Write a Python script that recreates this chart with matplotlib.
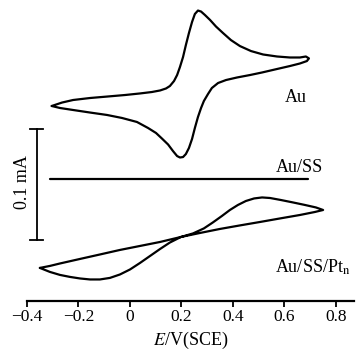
import matplotlib
matplotlib.use('Agg')
import matplotlib.pyplot as plt
import numpy as np

plt.rcParams['font.family'] = 'Liberation Serif'
plt.rcParams['mathtext.fontset'] = 'stix'
plt.rcParams['font.size'] = 13

# Au electrode: forward scan then reverse scan (E / V, I / mA)
au_E = [-0.304, -0.264, -0.221, -0.155, -0.089, -0.019, 0.039, 0.085, 0.117, 0.140,
        0.155, 0.171, 0.183, 0.194, 0.206, 0.217, 0.229, 0.241, 0.252, 0.264,
        0.276, 0.291, 0.311, 0.334, 0.361, 0.392, 0.427, 0.470, 0.517, 0.571,
        0.621, 0.660, 0.683, 0.695,
        0.687, 0.660, 0.621, 0.563, 0.513, 0.466, 0.416, 0.373, 0.342, 0.318,
        0.303, 0.287, 0.276, 0.264, 0.252, 0.241, 0.229, 0.217, 0.206, 0.194,
        0.183, 0.167, 0.148, 0.124, 0.101, 0.070, 0.027, -0.031, -0.089, -0.155,
        -0.221, -0.272, -0.304]
au_I = [-0.0099, -0.0068, -0.0045, -0.0027, -0.0014, 0.0, 0.0014, 0.0027, 0.0041, 0.0059,
        0.0081, 0.0126, 0.0180, 0.0252, 0.0342, 0.0450, 0.0559, 0.0658, 0.0730, 0.0761,
        0.0752, 0.0721, 0.0676, 0.0617, 0.0559, 0.0495, 0.0441, 0.0396, 0.0365, 0.0347,
        0.0338, 0.0338, 0.0347, 0.0330,
        0.0306, 0.0284, 0.0261, 0.0230, 0.0203, 0.0180, 0.0158, 0.0135, 0.0108, 0.0063,
        0.0009, -0.0054, -0.0117, -0.0198, -0.0297, -0.0396, -0.0477, -0.0532, -0.0559, -0.0563,
        -0.0550, -0.0505, -0.0446, -0.0392, -0.0342, -0.0297, -0.0243, -0.0207, -0.0180, -0.0158,
        -0.0135, -0.0117, -0.0099]

# Au/SS electrode
ss_E = [-0.31, 0.69]
ss_I = [0.0, 0.0]

# Au/SS/Pt_n electrode
pt_E = [-0.350, -0.311, -0.272, -0.194, -0.117, -0.039, 0.039, 0.117, 0.198,
        0.272, 0.349, 0.427, 0.505, 0.583, 0.660, 0.718, 0.750,
        0.722, 0.680, 0.633, 0.586, 0.544, 0.513, 0.482, 0.450, 0.419, 0.388,
        0.357, 0.322, 0.287, 0.245, 0.198,
        0.155, 0.117, 0.078, 0.039, 0.0, -0.039, -0.078, -0.117, -0.155, -0.194,
        -0.233, -0.272, -0.311, -0.350]
pt_I = [-0.0279, -0.0261, -0.0239, -0.0198, -0.0158, -0.0117, -0.0081, -0.0045, 0.0,
        0.0036, 0.0072, 0.0104, 0.0135, 0.0167, 0.0198, 0.0225, 0.0243,
        0.0266, 0.0288, 0.0311, 0.0333, 0.0351, 0.0356, 0.0347, 0.0324, 0.0288, 0.0243,
        0.0189, 0.0131, 0.0077, 0.0032, 0.0,
        -0.0050, -0.0108, -0.0171, -0.0234, -0.0293, -0.0338, -0.0369, -0.0383, -0.0383, -0.0374,
        -0.0360, -0.0342, -0.0315, -0.0279]

offsets = {'Au': 0.1856, 'Au/SS': 0.1099, 'Pt': 0.0577}

xticks = [-0.4, -0.2, 0, 0.2, 0.4, 0.6, 0.8]
xticklabels = ['\u22120.4', '\u22120.2', '0', '0.2', '0.4', '0.6', '0.8']

fig = plt.figure(figsize=(3.59, 3.50), dpi=100)
ax = fig.add_axes([27 / 359, 49 / 350, 327 / 359, 301 / 350])

kw = dict(color='black', linewidth=1.6, solid_joinstyle='round', solid_capstyle='round')
ax.plot(au_E, np.array(au_I) + offsets['Au'], **kw)
ax.plot(ss_E, np.array(ss_I) + offsets['Au/SS'], **kw)
ax.plot(pt_E, np.array(pt_I) + offsets['Pt'], **kw)

# scale bar 0.1 mA
bx = -0.362
ax.plot([bx, bx], [0.055, 0.155], color='black', linewidth=1.3, clip_on=False)
ax.plot([bx - 0.025, bx + 0.025], [0.155, 0.155], color='black', linewidth=1.3, clip_on=False)
ax.plot([bx - 0.025, bx + 0.025], [0.055, 0.055], color='black', linewidth=1.3, clip_on=False)
ax.text(-0.418, 0.107, '0.1 mA', rotation=90, ha='center', va='center', clip_on=False)

ax.text(0.645, 0.183, 'Au', ha='center', va='center')
ax.text(0.66, 0.120, 'Au/SS', ha='center', va='center')
ax.text(0.71, 0.030, 'Au/SS/Pt$_{\\mathrm{n}}$', ha='center', va='center')

ax.set_xlim(-0.4, 0.87)
ax.set_ylim(0, 0.2712)
for s in ['top', 'left', 'right']:
    ax.spines[s].set_visible(False)
ax.spines['bottom'].set_linewidth(1.6)
ax.set_yticks([])
ax.set_xticks(xticks)
ax.set_xticklabels(xticklabels)
ax.tick_params(axis='x', direction='out', length=4, width=1.3, pad=2, labelsize=12.5)
ax.set_xlabel('$E$/V(SCE)', labelpad=3)

fig.savefig('out.png', dpi=100)
